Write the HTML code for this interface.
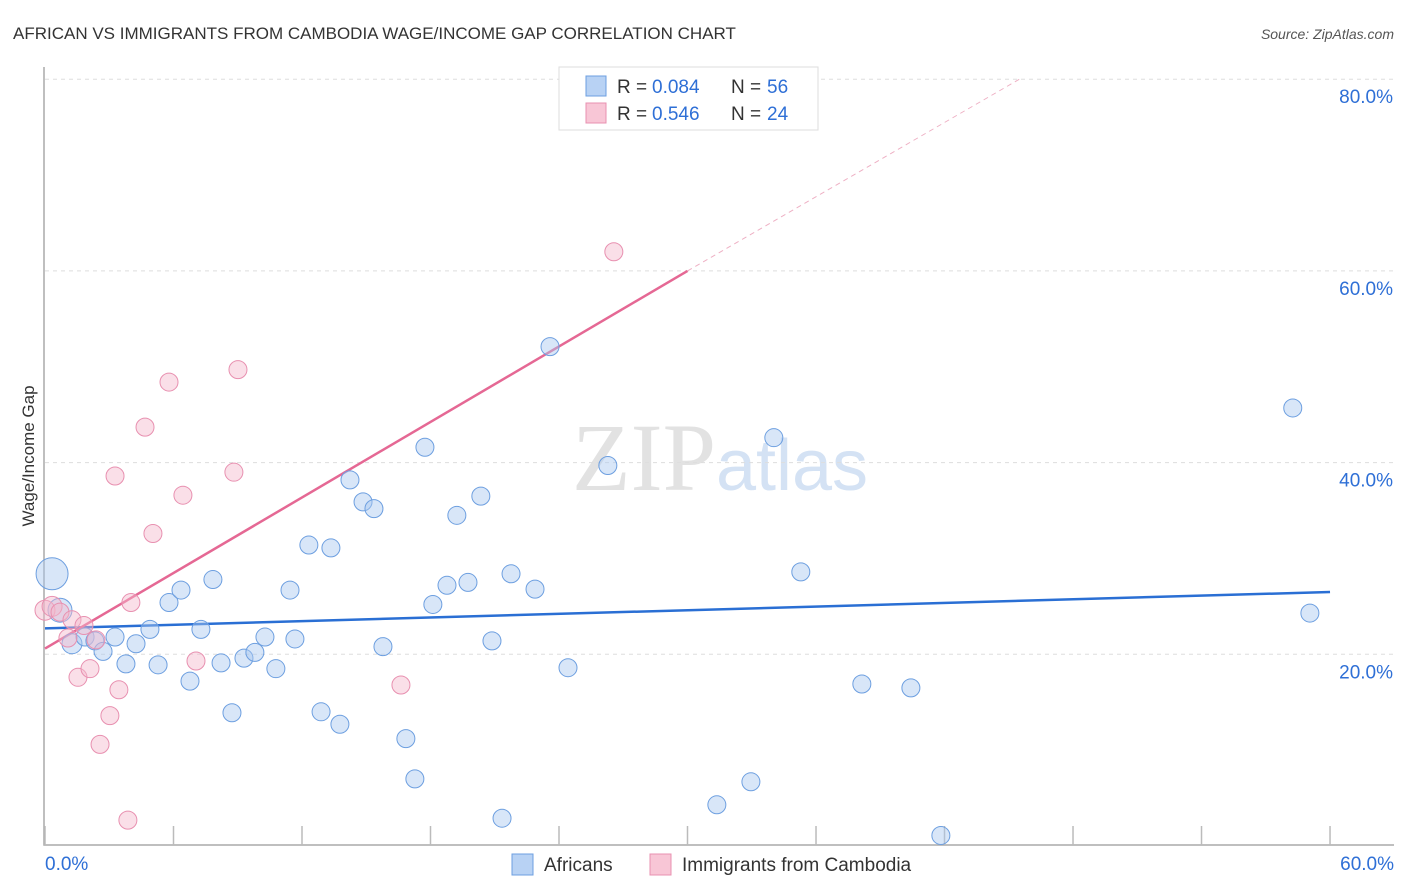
<!DOCTYPE html>
<html><head><meta charset="utf-8"><style>
body{margin:0;background:#fff;font-family:"Liberation Sans",sans-serif;}
svg{display:block}
</style></head><body>
<svg id="chart" width="1406" height="892" xmlns="http://www.w3.org/2000/svg">
<text x="13" y="39" font-size="17" fill="#333">AFRICAN VS IMMIGRANTS FROM CAMBODIA WAGE/INCOME GAP CORRELATION CHART</text>
<text x="1394" y="39" font-size="14" fill="#555" font-style="italic" text-anchor="end">Source: ZipAtlas.com</text>
<text x="720" y="490" font-size="96" text-anchor="middle" font-family="Liberation Serif,serif" fill="#e2e2e2">ZIP<tspan fill="#d4e2f4" font-family="Liberation Sans,sans-serif" font-size="72">atlas</tspan></text>
<g id="grid"></g><g id="axes"></g><g id="lines"></g><g id="pts"></g>
<text transform="translate(34,456) rotate(-90)" font-size="17" fill="#333" text-anchor="middle">Wage/Income Gap</text>
<g>
<rect x="559" y="67" width="259" height="63" fill="#fff" stroke="#ddd"/>
<rect x="586" y="76" width="20" height="20" fill="#b8d2f4" stroke="#6d9fe0"/>
<text x="617" y="93" font-size="19" fill="#333">R =</text>
<text x="652" y="93" font-size="19" fill="#2e6fd6">0.084</text>
<text x="731" y="93" font-size="19" fill="#333">N =</text>
<text x="767" y="93" font-size="19" fill="#2e6fd6">56</text>
<rect x="586" y="103" width="20" height="20" fill="#f8c6d6" stroke="#e890b0"/>
<text x="617" y="120" font-size="19" fill="#333">R =</text>
<text x="652" y="120" font-size="19" fill="#2e6fd6">0.546</text>
<text x="731" y="120" font-size="19" fill="#333">N =</text>
<text x="767" y="120" font-size="19" fill="#2e6fd6">24</text>
</g>
<g>
<rect x="512" y="854" width="21" height="21" fill="#b8d2f4" stroke="#6d9fe0"/>
<text x="544" y="871" font-size="19" fill="#333">Africans</text>
<rect x="650" y="854" width="21" height="21" fill="#f8c6d6" stroke="#e890b0"/>
<text x="682" y="871" font-size="19" fill="#333">Immigrants from Cambodia</text>
</g>
</svg>
<script>
const xTicks=[0,6,12,18,24,30,36,42,48,54,60];
const yTicks=[20,40,60,80];
const blueX=[0.33,0.70,1.26,1.87,2.33,2.71,3.27,3.78,4.25,4.90,5.28,5.79,6.35,6.77,7.28,7.84,8.22,8.73,9.29,9.80,10.27,10.78,11.44,11.67,12.32,12.89,13.35,13.77,14.24,14.85,15.36,15.78,16.85,17.27,17.74,18.11,18.77,19.23,19.75,20.35,20.87,21.34,21.76,22.88,23.58,24.42,26.28,31.37,32.96,34.03,35.29,38.14,40.43,41.83,58.26,59.06];
const blueY=[28.4,24.6,21.1,21.8,21.4,20.3,21.8,19.0,21.1,22.6,18.9,25.4,26.7,17.2,22.6,27.8,19.1,13.9,19.6,20.2,21.8,18.5,26.7,21.6,31.4,14.0,31.1,12.7,38.2,35.9,35.2,20.8,11.2,7.0,41.6,25.2,27.2,34.5,27.5,36.5,21.4,2.9,28.4,26.8,52.1,18.6,39.7,4.3,6.7,42.6,28.6,16.9,16.5,1.1,45.7,24.3];
const blueR=[16,12,10,9,9,9,9,9,9,9,9,9,9,9,9,9,9,9,9,9,9,9,9,9,9,9,9,9,9,9,9,9,9,9,9,9,9,9,9,9,9,9,9,9,9,9,9,9,9,9,9,9,9,9,9,9];
const pinkX=[0,0.33,0.70,1.07,1.26,1.54,1.82,2.10,2.38,2.57,3.03,3.27,3.45,3.87,4.01,4.67,5.04,5.79,6.44,7.05,8.82,9.01,16.62,26.56];
const pinkY=[24.6,25.0,24.4,21.7,23.6,17.6,23.0,18.5,21.5,10.6,13.6,38.6,16.3,2.7,25.4,43.7,32.6,48.4,36.6,19.3,39.0,49.7,16.8,62.0];
const blueTrend=[[0,22.7],[60,26.5]];
const pinkTrend=[[0,20.6],[30,60.0]];
const pinkTrendExt=[[30,60.0],[45.5,80]];
const X=v=>45+v*21.417, Y=v=>846-v*9.585;
const NS="http://www.w3.org/2000/svg";
function mk(p,t,a){const e=document.createElementNS(NS,t);for(const k in a)e.setAttribute(k,a[k]);document.getElementById(p).appendChild(e);return e;}
yTicks.forEach(t=>{
 const g=mk('grid','line',{x1:45,x2:1394,y1:Y(t),y2:Y(t),stroke:'#ddd','stroke-dasharray':'4,4'});
 
 
 const l=mk('grid','text',{x:1393,y:Y(t)+24,'font-size':19,fill:'#2e6fd6','text-anchor':'end'});
 l.textContent=t.toFixed(1)+'%';
 
 
});
const ax=mk('axes','path',{d:'M44,67V845H1394',fill:'none',stroke:'#aaa','stroke-width':1.5});


xTicks.forEach(t=>{
 const k=mk('axes','line',{x1:X(t),x2:X(t),y1:826,y2:845,stroke:'#bbb','stroke-width':1.5});
 
 
});
[[0,'start',45],[60,'end',1394]].forEach(([t,a,x])=>{
 const l=mk('axes','text',{x:x,y:870,'font-size':19,fill:'#2e6fd6','text-anchor':a});
 l.textContent=t.toFixed(1)+'%';
 
 
});
blueX.forEach((v,i)=>{
 const c=mk('pts','circle',{cx:X(v),cy:Y(blueY[i]),r:blueR[i],fill:'rgba(168,200,240,0.45)',stroke:'#6d9fe0','stroke-width':1});
 
 
});
pinkX.forEach((v,i)=>{
 const c=mk('pts','circle',{cx:X(v),cy:Y(pinkY[i]),r:i<2?10:9,fill:'rgba(245,184,204,0.45)',stroke:'#e890b0','stroke-width':1});
 
 
});
const bl=mk('lines','line',{x1:X(blueTrend[0][0]),y1:Y(blueTrend[0][1]),x2:X(blueTrend[1][0]),y2:Y(blueTrend[1][1]),stroke:'#2a6fd4','stroke-width':2.5});


const pl=mk('lines','line',{x1:X(pinkTrend[0][0]),y1:Y(pinkTrend[0][1]),x2:X(pinkTrend[1][0]),y2:Y(pinkTrend[1][1]),stroke:'#e56894','stroke-width':2.5});


const pe=mk('lines','line',{x1:X(pinkTrendExt[0][0]),y1:Y(pinkTrendExt[0][1]),x2:X(pinkTrendExt[1][0]),y2:Y(pinkTrendExt[1][1]),stroke:'#eeb0c4','stroke-width':1,'stroke-dasharray':'5,4'});


</script>
</body></html>
